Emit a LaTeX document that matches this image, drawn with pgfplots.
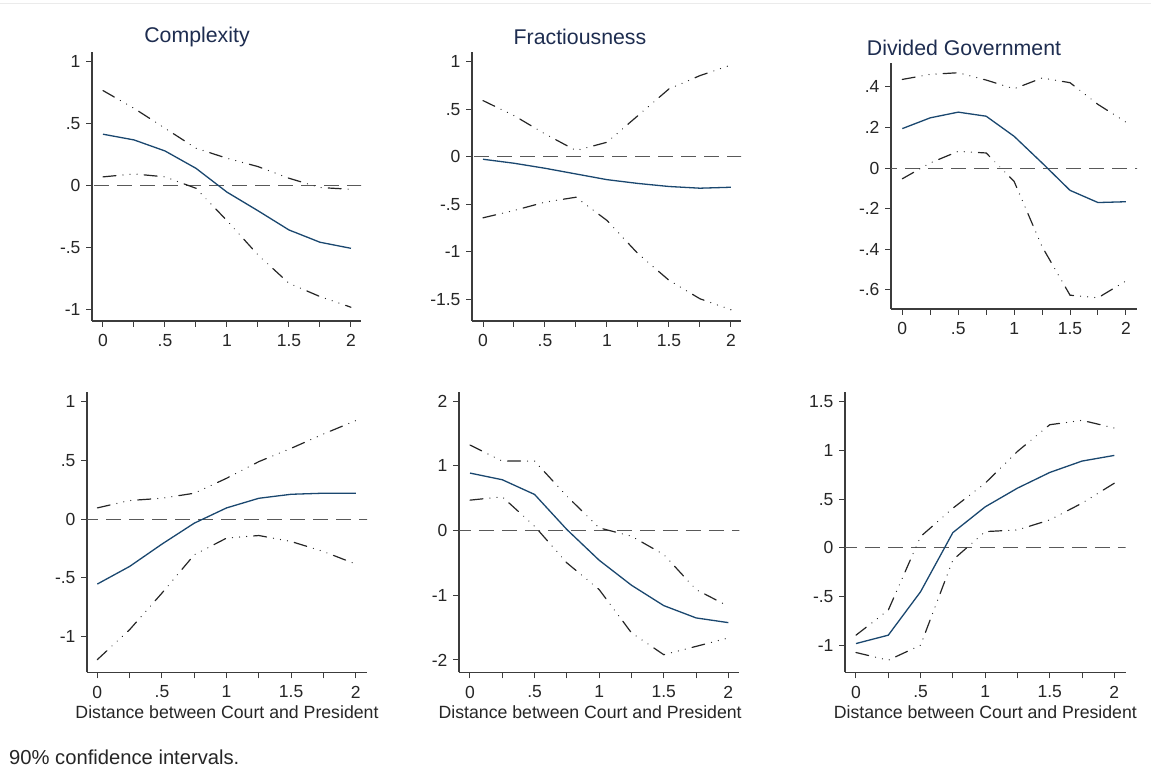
\documentclass[border=0pt]{standalone}
\usepackage{fontspec}
\setmainfont{Liberation Sans}
\usepackage{pgfplots}
\usepackage{pgfplotstable}
\pgfplotsset{compat=1.18}
\definecolor{statanavy}{RGB}{26,71,111}
\definecolor{titlenavy}{RGB}{30,45,80}
\definecolor{axgray}{RGB}{60,60,60}
\newcommand\tickfont{\fontsize{17.5pt}{19pt}\selectfont}
\newcommand\labfont{\fontsize{17.7pt}{19pt}\selectfont}
\newcommand\titfont{\fontsize{21.3pt}{23pt}\selectfont}

\pgfplotstableread{
x est hi lo
0 0.417 0.769 0.073
0.25 0.371 0.626 0.097
0.5 0.282 0.465 0.073
0.75 0.142 0.304 -0.019
1 -0.05 0.223 -0.28
1.25 -0.20 0.156 -0.556
1.5 -0.355 0.062 -0.785
1.75 -0.454 -0.013 -0.892
2 -0.503 -0.027 -0.978
}\tabA
\pgfplotstableread{
x est hi lo
0 -0.025 0.593 -0.642
0.25 -0.067 0.435 -0.565
0.5 -0.12 0.242 -0.477
0.75 -0.18 0.067 -0.425
1 -0.24 0.154 -0.67
1.25 -0.28 0.435 -1.02
1.5 -0.312 0.716 -1.30
1.75 -0.33 0.856 -1.495
2 -0.32 0.968 -1.61
}\tabB
\pgfplotstableread{
x est hi lo
0 0.194 0.436 -0.053
0.25 0.247 0.461 0.025
0.5 0.275 0.469 0.082
0.75 0.255 0.433 0.074
1 0.156 0.39 -0.066
1.25 0.025 0.443 -0.387
1.5 -0.110 0.42 -0.626
1.75 -0.17 0.313 -0.639
2 -0.166 0.226 -0.556
}\tabC
\pgfplotstableread{
x est hi lo
0 -0.552 0.096 -1.195
0.25 -0.402 0.159 -0.94
0.5 -0.212 0.178 -0.629
0.75 -0.034 0.221 -0.303
1 0.096 0.348 -0.161
1.25 0.178 0.49 -0.139
1.5 0.212 0.603 -0.19
1.75 0.221 0.725 -0.275
2 0.221 0.839 -0.382
}\tabD
\pgfplotstableread{
x est hi lo
0 0.887 1.32 0.469
0.25 0.784 1.072 0.52
0.5 0.557 1.072 0.067
0.75 0.015 0.531 -0.5
1 -0.459 0.041 -0.912
1.25 -0.845 -0.088 -1.58
1.5 -1.16 -0.371 -1.918
1.75 -1.35 -0.912 -1.79
2 -1.423 -1.17 -1.66
}\tabE
\pgfplotstableread{
x est hi lo
0 -0.981 -0.895 -1.073
0.25 -0.895 -0.638 -1.152
0.5 -0.449 0.117 -0.998
0.75 0.158 0.408 -0.123
1 0.422 0.665 0.168
1.25 0.614 0.991 0.185
1.5 0.775 1.265 0.288
1.75 0.892 1.31 0.46
2 0.95 1.231 0.665
}\tabF

\pgfplotsset{
  stata/.style={
    scale only axis,
    axis x line*=bottom, axis y line*=left,
    axis line style={-, line width=1.2pt, color=axgray},
    tick style={line width=1pt, color=axgray},
    tick align=outside, major tick length=6pt,
    xtick={0,0.25,0.5,0.75,1,1.25,1.5,1.75,2},
    xticklabels={0,,.5,,1,,1.5,,2},
    ticklabel style={font=\tickfont, text=black!85},
    xticklabel style={yshift=-4pt},
    yticklabel style={xshift=-2pt},
    xlabel style={font=\labfont, text=black!85, yshift=-1pt},
    clip=true,
  },
  est/.style={statanavy, line width=1.3pt},
  ci/.style={black!85, line width=1.2pt, line cap=round,
    dash pattern=on 13pt off 7pt on 0.1pt off 7pt on 0.1pt off 7pt on 0.1pt off 7pt},
  zero/.style={black!65, line width=1pt, dash pattern=on 15pt off 8pt},
}

\newcommand\panel[1]{%
  \addplot[zero] coordinates {(-1,0) (3,0)};
  \addplot[ci] table[x=x,y=hi] {#1};
  \addplot[ci] table[x=x,y=lo] {#1};
  \addplot[est] table[x=x,y=est] {#1};
}

\begin{document}
\begin{tikzpicture}
\useasboundingbox (0,0) rectangle (1151pt,770pt);
\fill[white] (0,0) rectangle (1151pt,770pt);
\draw[black!8, line width=1pt] (0,766.5pt) -- (1151pt,766.5pt);

% Top-left
\begin{axis}[stata, at={(92pt,449pt)}, anchor=south west, width=269pt, height=269pt,
  xmin=-0.0887, xmax=2.081, ymin=-1.089, ymax=1.08,
  ytick={-1,-0.5,0,0.5,1}, yticklabels={-1,-.5,0,.5,1}]
\panel{\tabA}
\end{axis}

% Top-middle
\begin{axis}[stata, at={(472pt,449pt)}, anchor=south west, width=269pt, height=269pt,
  xmin=-0.0887, xmax=2.081, ymin=-1.729, ymax=1.105,
  ytick={-1.5,-1,-0.5,0,0.5,1}, yticklabels={-1.5,-1,-.5,0,.5,1}]
\panel{\tabB}
\end{axis}

% Top-right
\begin{axis}[stata, at={(891pt,461pt)}, anchor=south west, width=246pt, height=246pt,
  xmin=-0.101, xmax=2.099, ymin=-0.694, ymax=0.517,
  ytick={-0.6,-0.4,-0.2,0,0.2,0.4}, yticklabels={-.6,-.4,-.2,0,.2,.4}]
\panel{\tabC}
\end{axis}

% Bottom-left
\begin{axis}[stata, at={(87pt,97.7pt)}, anchor=south west, width=280pt, height=280.6pt,
  xmin=-0.08, xmax=2.087, ymin=-1.303, ymax=1.085,
  ytick={-1,-0.5,0,0.5,1}, yticklabels={-1,-.5,0,.5,1},
  xlabel={Distance between Court and President}]
\panel{\tabD}
\end{axis}

% Bottom-middle
\begin{axis}[stata, at={(459pt,97.7pt)}, anchor=south west, width=280.3pt, height=280.6pt,
  xmin=-0.085, xmax=2.085, ymin=-2.19, ymax=2.144,
  ytick={-2,-1,0,1,2}, yticklabels={-2,-1,0,1,2},
  xlabel={Distance between Court and President}, xlabel style={xshift=-9pt}]
\panel{\tabE}
\end{axis}

% Bottom-right
\begin{axis}[stata, at={(845pt,97.7pt)}, anchor=south west, width=280.7pt, height=280.6pt,
  xmin=-0.085, xmax=2.088, ymin=-1.276, ymax=1.604,
  ytick={-1,-0.5,0,0.5,1,1.5}, yticklabels={-1,-.5,0,.5,1,1.5},
  xlabel={Distance between Court and President}]
\panel{\tabF}
\end{axis}

\node[font=\titfont, text=titlenavy] at (197pt,733pt) {Complexity};
\node[font=\titfont, text=titlenavy] at (580pt,733pt) {Fractiousness};
\node[font=\titfont, text=titlenavy] at (964pt,722pt) {Divided Government};
\node[font=\fontsize{20.2pt}{22pt}\selectfont, text=black!85, anchor=west, inner sep=0pt] at (9pt,13pt) {90\% confidence intervals.};
\end{tikzpicture}
\end{document}
